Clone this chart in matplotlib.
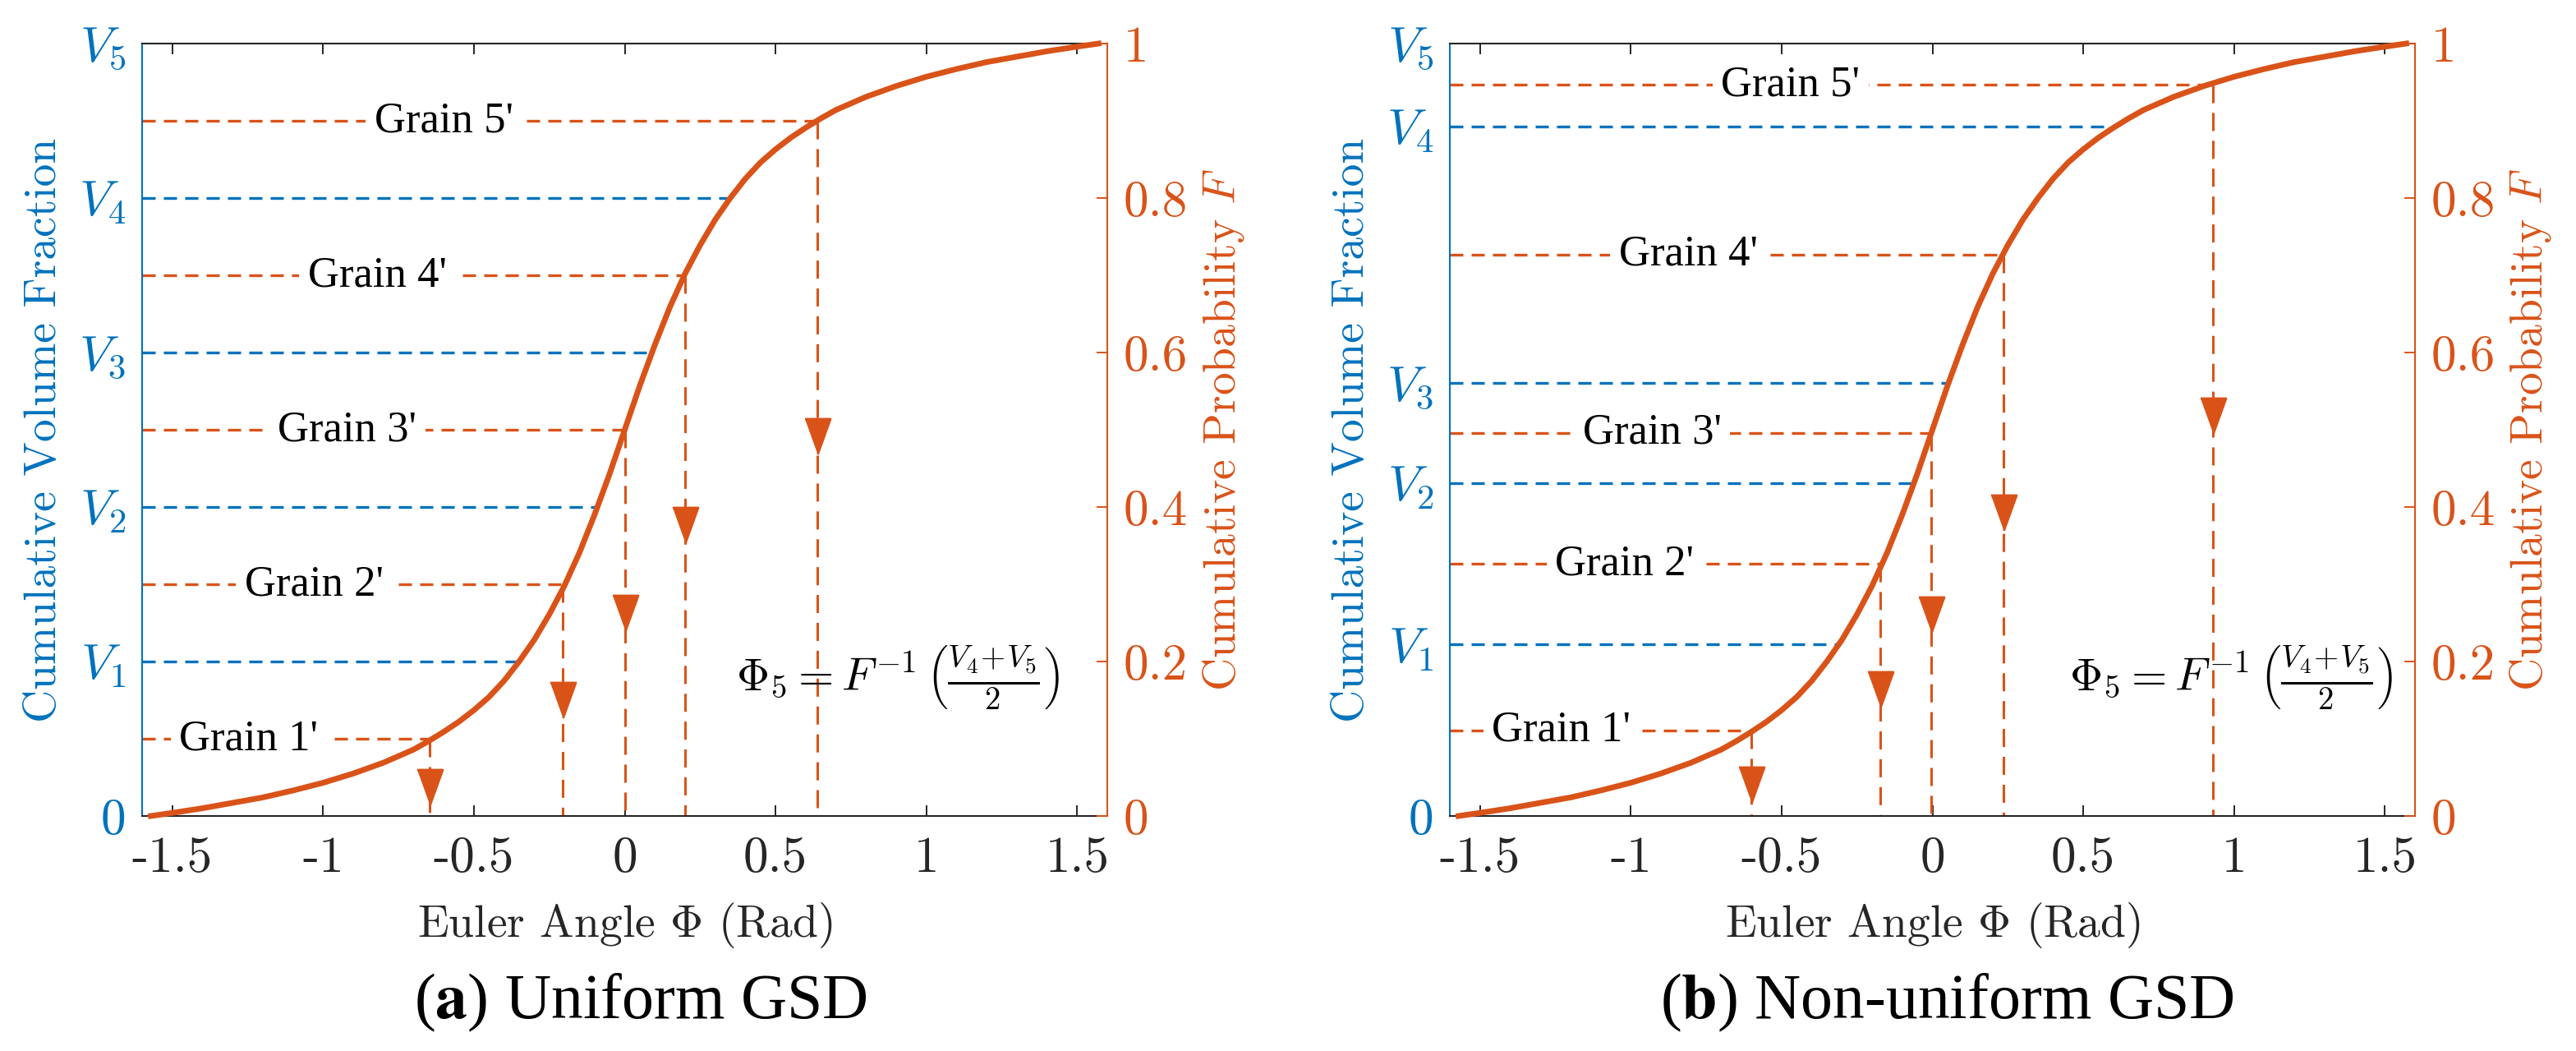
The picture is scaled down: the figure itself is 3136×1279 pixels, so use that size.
import numpy as np
import matplotlib.pyplot as plt

plt.rcParams['font.family'] = 'cmr10'
plt.rcParams['mathtext.fontset'] = 'cm'
plt.rcParams['axes.unicode_minus'] = False

BLUE = '#0072BD'
ORANGE = '#D95319'
DARK = '#262626'

# CDF curve (Euler angle, cumulative probability)
phi_curve = [-1.571, -1.50, -1.40, -1.30, -1.20, -1.10, -1.00, -0.90, -0.80, -0.70,
             -0.65, -0.60, -0.55, -0.50, -0.45, -0.40, -0.35, -0.30, -0.25, -0.20,
             -0.15, -0.10, -0.05, 0.00, 0.05, 0.10, 0.15, 0.20, 0.25, 0.30,
             0.35, 0.40, 0.45, 0.50, 0.55, 0.60, 0.65, 0.70, 0.80, 0.90,
             1.00, 1.10, 1.20, 1.30, 1.40, 1.50, 1.571]
F_curve = [0.000, 0.004, 0.010, 0.017, 0.024, 0.033, 0.043, 0.055, 0.069, 0.086,
           0.097, 0.109, 0.122, 0.137, 0.154, 0.175, 0.200, 0.228, 0.261, 0.298,
           0.341, 0.390, 0.443, 0.500, 0.557, 0.610, 0.659, 0.702, 0.739, 0.772,
           0.800, 0.825, 0.846, 0.863, 0.878, 0.891, 0.903, 0.914, 0.931, 0.945,
           0.957, 0.967, 0.976, 0.983, 0.990, 0.996, 1.000]

x_ticks = [-1.5, -1, -0.5, 0, 0.5, 1, 1.5]
x_tick_labels = ['-1.5', '-1', '-0.5', '0', '0.5', '1', '1.5']
prob_ticks = [0, 0.2, 0.4, 0.6, 0.8, 1]
prob_tick_labels = ['0', '0.2', '0.4', '0.6', '0.8', '1']
vol_names = ['0', '$V_1$', '$V_2$', '$V_3$', '$V_4$', '$V_5$']
grain_names = ["Grain 1'", "Grain 2'", "Grain 3'", "Grain 4'", "Grain 5'"]

# (a) uniform
vol_a = [0, 0.2, 0.4, 0.6, 0.8, 1.0]
grain_a = [0.1, 0.3, 0.5, 0.7, 0.9]
phi_a = [-0.647, -0.205, 0.0, 0.201, 0.639]
arrow_a = [0.037, 0.150, 0.263, 0.377, 0.492]
label_x_a = [-1.247, -1.03, -0.92, -0.82, -0.60]

# (b) non-uniform
vol_b = [0, 0.222, 0.431, 0.561, 0.893, 1.0]
grain_b = [0.111, 0.3265, 0.496, 0.727, 0.9465]
phi_b = [-0.600, -0.174, -0.003, 0.236, 0.929]
arrow_b = [0.040, 0.164, 0.261, 0.393, 0.518]
label_x_b = [-1.23, -1.02, -0.93, -0.81, -0.47]

formula = r'$\Phi_5 = F^{-1}\,\left(\frac{V_4\!+\!V_5}{2}\right)$'
ARROW = [(-0.36, 0.5), (0.36, 0.5), (0, -0.5)]


def draw_panel(ax, vol, grain, phi, arrows, label_x, fx, caption, cap_x):
    ax.set_xlim(-1.6, 1.6)
    ax.set_ylim(0, 1)

    vol_end = np.interp(vol[1:-1], F_curve, phi_curve)
    for v, xe in zip(vol[1:-1], vol_end):
        ax.plot([-1.6, xe], [v, v], color=BLUE, lw=1.2, ls=(0, (4.8, 3.0)), zorder=2)

    for name, g, p, a, lx in zip(grain_names, grain, phi, arrows, label_x):
        ax.plot([-1.6, p], [g, g], color=ORANGE, lw=1.2, ls=(0, (4.8, 3.0)), zorder=2)
        ax.plot([p, p], [g, 0], color=ORANGE, lw=1.1, ls=(0, (7.2, 3.9)), zorder=2)
        ax.plot(p, a, marker=ARROW, ms=15.5, color=ORANGE, mec=ORANGE, zorder=3)
        ax.text(lx, g, name, family='Liberation Serif', fontsize=19, ha='center',
                va='center', zorder=4,
                bbox=dict(boxstyle='square,pad=0.2', fc='white', ec='none'))

    ax.plot(phi_curve, F_curve, color=ORANGE, lw=2.5, zorder=5, clip_on=False,
            solid_joinstyle='round')

    ax.text(fx, 0.18, formula, fontsize=20, ha='center', va='center', zorder=4)

    ax.set_xticks(x_ticks)
    ax.set_xticklabels(x_tick_labels)
    ax.set_yticks(vol)
    ax.set_yticklabels(vol_names)
    ax.tick_params(axis='x', direction='in', top=True, length=4.7, width=0.7,
                   color=DARK, labelcolor=DARK, labelsize=22, pad=9)
    ax.tick_params(axis='y', direction='in', length=4.7, width=0.7,
                   color=BLUE, labelcolor=BLUE, labelsize=22, pad=7)
    ax.spines['left'].set_color(BLUE)
    ax.spines['right'].set_visible(False)
    for s in ['top', 'bottom']:
        ax.spines[s].set_color(DARK)
    for s in ax.spines.values():
        s.set_linewidth(0.75)

    ax.set_xlabel(r'Euler Angle $\Phi$ (Rad)', fontsize=20, color=DARK, va='center')
    ax.xaxis.set_label_coords(0.5, -0.1415)
    ax.set_ylabel('Cumulative Volume Fraction', fontsize=20, color=BLUE, va='center')
    ax.yaxis.set_label_coords(-0.101, 0.5)

    ax2 = ax.twinx()
    ax2.set_ylim(0, 1)
    ax2.set_yticks(prob_ticks)
    ax2.set_yticklabels(prob_tick_labels)
    ax2.tick_params(axis='y', direction='in', length=4.7, width=0.7,
                    color=ORANGE, labelcolor=ORANGE, labelsize=22, pad=7)
    for s in ['left', 'top', 'bottom']:
        ax2.spines[s].set_visible(False)
    ax2.spines['right'].set_color(ORANGE)
    ax2.spines['right'].set_linewidth(0.75)
    ax2.set_ylabel(r'Cumulative Probability $F$', fontsize=20, color=ORANGE,
                   va='center', rotation=90)
    ax2.yaxis.set_label_coords(1.12, 0.5)

    ax.figure.text(cap_x, 0.046, caption, family='Liberation Serif',
                   math_fontfamily='stix', fontsize=28, ha='center', va='center')


fig = plt.figure(figsize=(15.68, 6.395), dpi=200)
ax_a = fig.add_axes([0.05517, 0.22361, 0.37468, 0.73495])
ax_b = fig.add_axes([0.56282, 0.22361, 0.37468, 0.73495])

draw_panel(ax_a, vol_a, grain_a, phi_a, arrow_a, label_x_a, 0.905,
           r'($\mathbf{a}$) Uniform GSD', 0.2487)
draw_panel(ax_b, vol_b, grain_b, phi_b, arrow_b, label_x_b, 0.99,
           r'($\mathbf{b}$) Non-uniform GSD', 0.7557)

fig.savefig('out.png', dpi=200)
